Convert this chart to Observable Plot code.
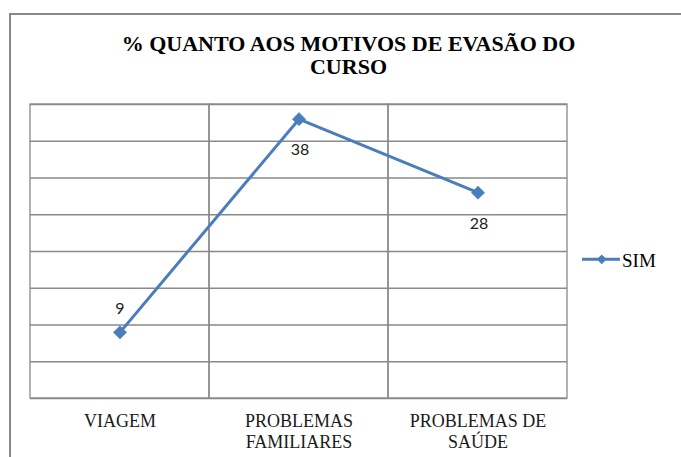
<!DOCTYPE html>
<html>
<head>
<meta charset="utf-8">
<script src="https://cdn.jsdelivr.net/npm/d3@7"></script>
<script src="https://cdn.jsdelivr.net/npm/@observablehq/plot@0.6"></script>
<style>
  html, body { margin: 0; padding: 0; background: #fff; }
  #wrap { position: relative; width: 681px; height: 457px; overflow: hidden; background: #fff; }
  #frame { position: absolute; left: 9px; top: 13px; width: 700px; height: 460px;
           border-left: 2px solid #878787; border-top: 2px solid #878787; box-sizing: border-box; }
  #title { position: absolute; left: 9px; top: 32px; width: 679px; text-align: center;
           font-family: "Liberation Serif", "Times New Roman", serif; font-weight: bold;
           font-size: 22px; line-height: 23px; color: #000; }
  #chart { position: absolute; left: 0; top: 90px; }
  #legend { position: absolute; left: 570px; top: 240px; }
</style>
</head>
<body>
<div id="wrap">
  <div id="frame"></div>
  <div id="title">% QUANTO AOS MOTIVOS DE EVASÃO DO<br>CURSO</div>
  <div id="chart"></div>
  <svg id="legend" width="100" height="40"></svg>
</div>
<script>
const categories = ["VIAGEM", "PROBLEMAS FAMILIARES", "PROBLEMAS DE SAÚDE"];
const tickLabels = ["VIAGEM", "PROBLEMAS\nFAMILIARES", "PROBLEMAS DE\nSAÚDE"];
const simValues = [9, 38, 28];
const seriesName = "SIM";
const yGrid = [0, 5, 10, 15, 20, 25, 30, 35, 40];

const data = categories.map((c, i) => ({category: c, label: tickLabels[i], value: simValues[i]}));
const blue = "#4a7ebb";
const grid = "#898989";

const plot = Plot.plot({
  width: 681,
  height: 367,
  marginLeft: 30,
  marginRight: 114,
  marginTop: 14,
  marginBottom: 59,
  style: {background: "transparent", overflow: "visible"},
  x: {type: "band", domain: categories, padding: 0, axis: null},
  y: {domain: [0, 40], axis: null},
  marks: [
    Plot.ruleY(yGrid, {y: d => d, stroke: grid, strokeWidth: 1.3, strokeOpacity: 1}),
    Plot.cell(categories, {x: d => d, fill: "none", stroke: grid, strokeWidth: 1.3}),
    Plot.line(data, {x: "category", y: "value", stroke: blue, strokeWidth: 3}),
    Plot.dot(data, {x: "category", y: "value", symbol: "diamond2", r: 6, fill: blue, stroke: blue, strokeWidth: 0.5}),
    Plot.text(data.filter(d => d.category === "VIAGEM"), {x: "category", y: "value", text: d => String(d.value), dy: -23,
      fontFamily: "Lato, 'Open Sans', sans-serif", fontSize: 16, fill: "#222"}),
    Plot.text(data.filter(d => d.category !== "VIAGEM"), {x: "category", y: "value", text: d => String(d.value), dy: 31, dx: 1,
      fontFamily: "Lato, 'Open Sans', sans-serif", fontSize: 16, fill: "#222"}),
    Plot.text(data, {x: "category", text: "label", frameAnchor: "bottom", lineAnchor: "top", dy: 14,
      lineHeight: 1.15, fontFamily: "'Liberation Serif', 'Times New Roman', serif", fontSize: 18, fill: "#1a1a1a"})
  ]
});
document.getElementById("chart").appendChild(plot);

// legend
const lg = d3.select("#legend");
lg.append("line").attr("x1", 12).attr("x2", 50).attr("y1", 19.3).attr("y2", 19.3)
  .attr("stroke", blue).attr("stroke-width", 3);
lg.append("path").attr("d", d3.symbol(d3.symbolDiamond2, 60)()).attr("transform", "translate(31.7,19.3)")
  .attr("fill", blue);
lg.append("text").attr("x", 52).attr("y", 26.5).text(seriesName)
  .attr("font-family", "'Liberation Serif', 'Times New Roman', serif").attr("font-size", 19).attr("fill", "#000");
</script>
</body>
</html>
